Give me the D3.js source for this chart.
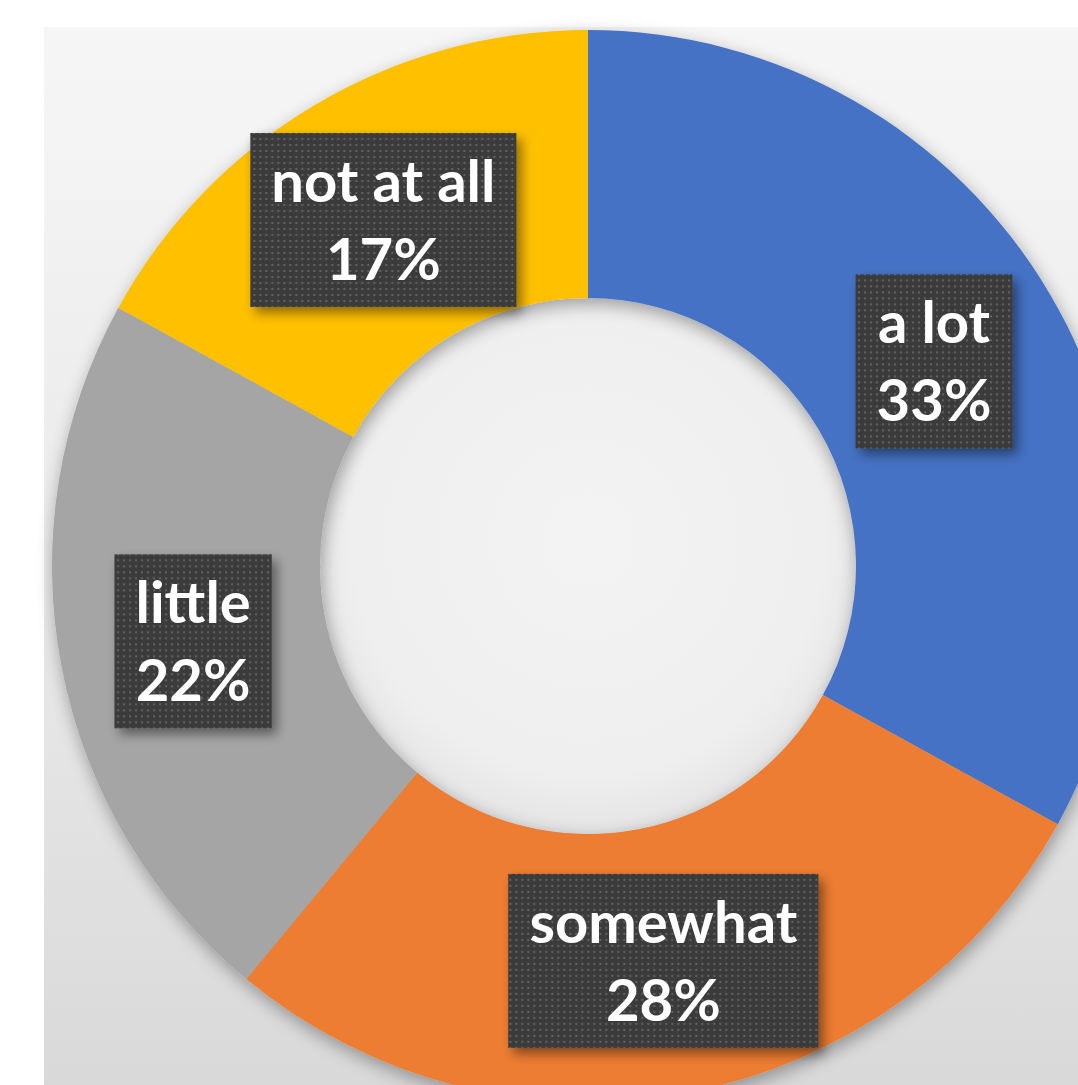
<!DOCTYPE html>
<html>
<head>
<meta charset="utf-8">
<script src="https://cdn.jsdelivr.net/npm/d3@7"></script>
<style>
  html, body { margin: 0; padding: 0; background: #ffffff; }
  svg { display: block; }
  .label-text { font-family: Lato, "Open Sans", sans-serif; font-weight: 700; fill: #ffffff; }
</style>
</head>
<body>
<div id="chart"></div>
<script>
// Donut of how much respondents agree, Office palette, labels sit on the
// arc centroids inside dark dotted boxes.
var categories = ["a lot", "somewhat", "little", "not at all"];
var values = [33, 28, 22, 17];
var colours = ["#4472c4", "#ed7d31", "#a5a5a5", "#ffc000"];

var W = 1078, H = 1085;
var cx = 588, cy = 566;
var outerR = 536, innerR = 268;

var svg = d3.select("#chart").append("svg")
  .attr("width", W).attr("height", H);

var defs = svg.append("defs");

var bg = defs.append("linearGradient").attr("id", "bg")
  .attr("x1", 0).attr("y1", 0).attr("x2", 0).attr("y2", 1);
bg.append("stop").attr("offset", "0%").attr("stop-color", "#f6f6f6");
bg.append("stop").attr("offset", "55%").attr("stop-color", "#e9e9e9");
bg.append("stop").attr("offset", "100%").attr("stop-color", "#d9d9d9");

var hole = defs.append("radialGradient").attr("id", "hole")
  .attr("cx", "50%").attr("cy", "45%").attr("r", "55%");
hole.append("stop").attr("offset", "0%").attr("stop-color", "#f3f3f3");
hole.append("stop").attr("offset", "80%").attr("stop-color", "#efefef");
hole.append("stop").attr("offset", "100%").attr("stop-color", "#e4e4e4");

var shadow = defs.append("filter").attr("id", "shadow")
  .attr("x", "-20%").attr("y", "-20%").attr("width", "140%").attr("height", "140%");
shadow.append("feGaussianBlur").attr("in", "SourceAlpha").attr("stdDeviation", 9);
shadow.append("feOffset").attr("dx", 2).attr("dy", 6).attr("result", "off");
shadow.append("feComponentTransfer").append("feFuncA").attr("type", "linear").attr("slope", 0.35);
var merge = shadow.append("feMerge");
merge.append("feMergeNode");
merge.append("feMergeNode").attr("in", "SourceGraphic");

var boxShadow = defs.append("filter").attr("id", "boxShadow")
  .attr("x", "-20%").attr("y", "-20%").attr("width", "150%").attr("height", "150%");
boxShadow.append("feGaussianBlur").attr("in", "SourceAlpha").attr("stdDeviation", 6);
boxShadow.append("feOffset").attr("dx", 5).attr("dy", 6).attr("result", "off");
boxShadow.append("feComponentTransfer").append("feFuncA").attr("type", "linear").attr("slope", 0.45);
var merge2 = boxShadow.append("feMerge");
merge2.append("feMergeNode");
merge2.append("feMergeNode").attr("in", "SourceGraphic");

var dots = defs.append("pattern").attr("id", "dots")
  .attr("width", 6).attr("height", 6).attr("patternUnits", "userSpaceOnUse");
dots.append("rect").attr("width", 6).attr("height", 6).attr("fill", "#3b3b3b");
dots.append("circle").attr("cx", 3).attr("cy", 3).attr("r", 1.1).attr("fill", "#6a6a6a");

// chart area panel
svg.append("rect")
  .attr("x", 44).attr("y", 27)
  .attr("width", W - 44).attr("height", H - 27)
  .attr("fill", "url(#bg)");

var g = svg.append("g").attr("transform", "translate(" + cx + "," + cy + ")");

// the hole, drawn first so the ring's shadow falls onto it
g.append("circle").attr("r", innerR).attr("fill", "url(#hole)");

var pie = d3.pie().sort(null).value(function (d) { return d; });
var arcs = pie(values);
var arc = d3.arc().innerRadius(innerR).outerRadius(outerR);

g.append("g").attr("filter", "url(#shadow)")
  .selectAll("path")
  .data(arcs).join("path")
  .attr("d", arc)
  .attr("fill", function (d, i) { return colours[i]; });

// -- labels --------------------------------------------------------------
var labels = g.append("g").selectAll("g")
  .data(arcs).join("g")
  .attr("transform", function (d) { return "translate(" + arc.centroid(d) + ")"; });

labels.each(function (d, i) {
  var lab = d3.select(this);
  var box = lab.append("rect").attr("fill", "url(#dots)").attr("filter", "url(#boxShadow)");
  var t = lab.append("text").attr("class", "label-text")
    .attr("text-anchor", "middle").style("font-size", "58px");
  t.append("tspan").attr("x", 0).attr("y", -18).text(categories[i]);
  t.append("tspan").attr("x", 0).attr("y", 60).text(values[i] + "%");
  var bb = t.node().getBBox();
  var w = bb.width + 42;
  var h = 174;
  box.attr("x", -w / 2).attr("y", -h / 2).attr("width", w).attr("height", h);
});
</script>
</body>
</html>
